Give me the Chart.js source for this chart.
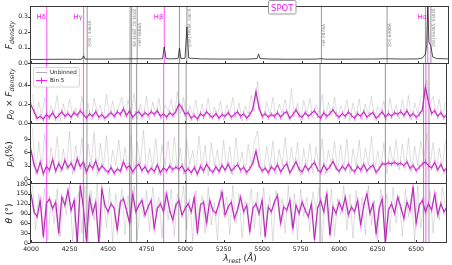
<!DOCTYPE html>
<html>
<head>
<meta charset="utf-8">
<script src="https://cdn.jsdelivr.net/npm/chart.js@4"></script>
<style>
body { margin: 0; background: #fff; }
#wrap { position: relative; width: 452px; height: 265px; }
#wrap canvas { position: absolute; left: 0; top: 0; }
</style>
</head>
<body>
<div id="wrap">
<canvas id="c1" width="452" height="265"></canvas>
<canvas id="c2" width="452" height="265"></canvas>
<canvas id="c3" width="452" height="265"></canvas>
<canvas id="c4" width="452" height="265"></canvas>
</div>
<script>
Chart.defaults.font.family = "'DejaVu Sans', sans-serif";
Chart.defaults.color = '#222';

// ---- data ----
const binStart = 4000, binStep = 20;   // Bin 5 series
const rawStart = 4010, rawStep = 20;   // unbinned (thinned)

const fluxWave = [4000, 4100, 4200, 4300, 4330, 4340, 4350, 4400, 4500, 4600, 4700, 4800, 4850, 4861, 4872, 4900, 4950, 4959, 4968, 4995,
  5007, 5019, 5100, 5200, 5300, 5400, 5460, 5470, 5480, 5550, 5650, 5750, 5850, 5876, 5900, 6000, 6100, 6200, 6300, 6400,
  6500, 6530, 6548, 6556, 6563, 6570, 6583, 6595, 6620, 6700];
const fluxVal = [0.024, 0.025, 0.026, 0.025, 0.027, 0.048, 0.027, 0.027, 0.027, 0.028, 0.029, 0.028, 0.029, 0.105, 0.030, 0.028, 0.030, 0.098, 0.030, 0.032,
  0.235, 0.033, 0.028, 0.027, 0.027, 0.027, 0.030, 0.060, 0.030, 0.027, 0.026, 0.026, 0.027, 0.030, 0.026, 0.026, 0.027, 0.027, 0.029, 0.027,
  0.028, 0.035, 0.060, 0.120, 0.400, 0.140, 0.110, 0.040, 0.030, 0.028];

const polFluxBin = [
  0.19, 0.12, 0.05, 0.07, 0.04, 0.09, 0.06, 0.11, 0.05, 0.08, 0.12, 0.07, 0.10,
  0.06, 0.11, 0.08, 0.13, 0.09, 0.05, 0.10, 0.07, 0.12, 0.06, 0.09, 0.05, 0.08,
  0.11, 0.07, 0.12, 0.09, 0.15, 0.08, 0.13, 0.06, 0.10, 0.12, 0.07, 0.11, 0.08,
  0.12, 0.09, 0.13, 0.07, 0.10, 0.06, 0.11, 0.08, 0.12, 0.20, 0.16, 0.09, 0.11,
  0.05, 0.08, 0.04, 0.10, 0.07, 0.12, 0.08, 0.06, 0.10, 0.05, 0.09, 0.07, 0.11,
  0.06, 0.09, 0.12, 0.07, 0.10, 0.05, 0.09, 0.15, 0.33, 0.16, 0.07, 0.10, 0.06,
  0.09, 0.07, 0.11, 0.06, 0.10, 0.12, 0.05, 0.09, 0.14, 0.08, 0.06, 0.11, 0.07,
  0.10, 0.13, 0.08, 0.05, 0.11, 0.07, 0.10, 0.14, 0.09, 0.06, 0.10, 0.07, 0.12,
  0.08, 0.05, 0.10, 0.07, 0.12, 0.06, 0.09, 0.11, 0.05, 0.08, 0.12, 0.06, 0.10,
  0.07, 0.11, 0.09, 0.12, 0.08, 0.13, 0.07, 0.10, 0.06, 0.09, 0.14, 0.38, 0.22,
  0.10, 0.13, 0.07, 0.11, 0.06, 0.09];
const polFluxRaw = [
  0.30, 0.04, 0.22, 0.08, 0.27, 0.03, 0.18, 0.10, 0.29, 0.02, 0.20, 0.06, 0.25, 0.09, 0.16,
  0.05, 0.28, 0.07, 0.21, 0.03, 0.26, 0.11, 0.19, 0.04, 0.30, 0.08, 0.23, 0.05, 0.17, 0.27,
  0.06, 0.24, 0.10, 0.31, 0.04, 0.20, 0.07, 0.28, 0.03, 0.22, 0.09, 0.26, 0.05, 0.19, 0.12,
  0.25, 0.06, 0.33, 0.10, 0.27, 0.03, 0.18, 0.08, 0.24, 0.02, 0.20, 0.07, 0.26, 0.04, 0.17,
  0.08, 0.23, 0.03, 0.19, 0.10, 0.27, 0.05, 0.21, 0.02, 0.18, 0.09, 0.29, 0.12, 0.44, 0.15,
  0.05, 0.22, 0.08, 0.27, 0.03, 0.20, 0.10, 0.25, 0.04, 0.36, 0.07, 0.21, 0.02, 0.24, 0.09,
  0.26, 0.05, 0.19, 0.11, 0.30, 0.03, 0.22, 0.08, 0.27, 0.04, 0.18, 0.10, 0.24, 0.02, 0.21,
  0.07, 0.25, 0.03, 0.20, 0.09, 0.28, 0.05, 0.17, 0.11, 0.23, 0.02, 0.26, 0.08, 0.19, 0.04,
  0.24, 0.07, 0.29, 0.03, 0.21, 0.10, 0.26, 0.30, 0.45, 0.20, 0.28, 0.08, 0.25, 0.06, 0.22];

const polBin = [
  6.5, 3.2, 1.5, 3.8, 1.2, 2.9, 2.0, 4.4, 1.8, 3.5, 2.2, 4.2, 2.6,
  3.6, 2.1, 4.6, 2.8, 3.9, 1.6, 3.3, 2.4, 4.1, 1.9, 3.0, 2.2, 1.5,
  2.6, 1.3, 2.3, 1.8, 3.9, 2.4, 3.1, 1.6, 2.7, 3.4, 1.9, 2.8, 1.5,
  2.5, 1.7, 3.2, 1.4, 2.6, 1.8, 3.0, 2.1, 2.7, 2.2, 3.0, 1.6, 2.4,
  1.4, 2.6, 1.1, 2.9, 1.8, 3.4, 2.2, 1.5, 2.8, 1.7, 3.1, 2.0, 3.4,
  1.8, 2.6, 3.3, 2.0, 2.7, 1.5, 2.4, 3.6, 6.3, 3.1, 1.8, 2.5, 1.4,
  2.8, 2.0, 3.3, 1.6, 2.7, 3.5, 1.4, 2.6, 3.9, 2.2, 1.6, 3.1, 2.0,
  3.0, 3.8, 2.2, 1.5, 3.2, 2.0, 2.8, 4.0, 2.5, 1.7, 2.9, 2.1, 3.4,
  2.3, 1.6, 2.9, 2.0, 3.3, 1.8, 2.7, 3.1, 1.5, 2.4, 3.5, 3.3, 3.7,
  3.4, 3.8, 3.3, 3.6, 3.0, 3.9, 2.4, 3.1, 1.9, 2.7, 3.4, 3.9, 3.0,
  2.5, 3.8, 2.1, 3.3, 1.8, 2.6];
const polRaw = [
  11.5, 1.2, 8.4, 2.5, 10.2, 0.8, 7.1, 3.0, 9.6, 1.5, 6.8, 2.2, 10.8, 1.0, 7.5,
  2.8, 9.2, 1.1, 7.9, 3.2, 10.5, 0.6, 8.1, 2.4, 9.8, 1.3, 6.5, 3.1, 8.8, 1.7,
  7.2, 2.0, 9.9, 1.1, 8.3, 3.4, 11.0, 1.6, 6.9, 2.5, 9.1, 0.9, 7.7, 2.9, 8.6,
  1.4, 9.5, 2.6, 7.0, 1.0, 8.9, 3.3, 6.4, 1.8, 9.7, 2.2, 7.6, 0.7, 8.2, 2.9,
  6.6, 1.5, 8.7, 2.3, 7.3, 0.9, 9.3, 2.7, 6.1, 1.2, 7.8, 3.1, 8.5, 10.8, 4.0,
  1.6, 7.4, 2.4, 8.6, 1.1, 6.7, 3.0, 9.4, 1.8, 7.1, 2.6, 8.3, 0.8, 6.9, 2.2,
  8.0, 1.4, 7.2, 2.9, 9.1, 1.0, 6.5, 3.2, 8.4, 1.7, 7.7, 2.4, 9.0, 1.2, 6.8,
  2.7, 8.8, 1.5, 7.0, 3.1, 9.6, 1.9, 6.3, 2.5, 8.1, 1.2, 7.5, 3.4, 8.9, 2.0,
  7.9, 2.3, 9.2, 1.6, 7.4, 3.0, 8.6, 4.2, 10.4, 3.1, 8.2, 1.8, 7.0, 2.5, 8.7];

const thetaBin = [
  150, 95, 80, 130, 20, 120, 135, 105, 125, 30, 140, 115, 160,
  100, 130, 0, 175, 110, 5, 140, 90, 125, 0, 165, 115, 95,
  120, 105, 40, 125, 135, 100, 60, 150, 95, 115, 130, 85, 110,
  130, 45, 105, 120, 95, 150, 100, 70, 115, 130, 85, 105, 120,
  95, 140, 30, 115, 125, 60, 130, 100, 90, 120, 155, 85, 110,
  125, 75, 100, 140, 95, 115, 35, 105, 120, 90, 130, 20, 110,
  95, 125, 145, 60, 110, 100, 130, 45, 115, 90, 125, 100, 80,
  120, 10, 105, 130, 95, 150, 25, 110, 90, 125, 100, 140, 85,
  110, 95, 130, 55, 115, 150, 90, 120, 30, 105, 135, 0, 100,
  120, 90, 140, 110, 75, 125, 100, 170, 60, 115, 130, 95, 120,
  100, 150, 85, 120, 95, 110];
const thetaRaw = [
  175, 40, 150, 95, 170, 10, 130, 60, 165, 20, 140, 85, 180, 5, 120,
  155, 30, 175, 0, 160, 70, 180, 15, 135, 45, 170, 0, 150, 90, 165,
  25, 145, 60, 175, 10, 130, 80, 160, 35, 170, 95, 140, 15, 155, 70,
  165, 20, 150, 105, 175, 40, 135, 5, 160, 75, 145, 30, 170, 55, 125,
  10, 160, 85, 140, 25, 175, 60, 150, 15, 130, 95, 165, 45, 155, 20,
  170, 65, 145, 5, 160, 90, 135, 30, 175, 50, 150, 10, 165, 80, 140,
  35, 155, 100, 170, 0, 145, 60, 165, 20, 135, 85, 175, 40, 150, 15,
  160, 70, 140, 25, 175, 55, 130, 10, 165, 95, 150, 35, 170, 60, 145,
  20, 165, 80, 150, 5, 175, 45, 140, 90, 160, 30, 155, 70, 170, 110];

const xTicks = [4000, 4250, 4500, 4750, 5000, 5250, 5500, 5750, 6000, 6250, 6500];
const fluxTicks = [0, 0.1, 0.2, 0.3];
const polFluxTicks = [0, 0.2, 0.4];
const polTicks = [0, 3, 6, 9];
const thetaTicks = [0, 30, 60, 90, 120, 150, 180];

const balmerWave = [4102, 4340, 4861, 6563];
const balmerName = ['Hδ', 'Hγ', 'Hβ', 'Hα'];
const otherWave = [4363, 4640, 4650, 4686, 4959, 5007, 5876, 6300, 6548, 6583];
const noteWave = [4363, 4650, 4686, 5007, 5876, 6300, 6583];
const noteText = ['[OIII] 4363Å', 'NIII 4640Å, CIII 4650Å', 'HeII 4686Å', '[OIII] 4959Å, 5007Å', 'HeI 5876Å', '[OI] 6300Å', '[NII] 6548Å, 6583Å'];

// ---- helpers ----
const W = 452, H = 265, PLOT_L = 31, PLOT_R = 449;
const MAGENTA = '#f01ef0';

function pts(start, step, vals) {
  return vals.map((v, i) => ({x: start + i * step, y: v}));
}
function rawSet(vals) {
  return {data: pts(rawStart, rawStep, vals), borderColor: 'rgba(140,140,140,0.35)', borderWidth: 0.8, pointRadius: 0, clip: 0};
}
function binSets(vals) {
  return [
    {data: pts(binStart, binStep, vals), borderColor: 'rgba(255,40,255,0.35)', borderWidth: 1.8,
     pointStyle: 'line', pointRotation: 90, pointRadius: 2.5, pointBorderColor: 'rgba(240,30,240,0.55)', pointBorderWidth: 1, clip: 0},
    {data: pts(binStart, binStep, vals), borderColor: '#7a2078', borderWidth: 1, pointRadius: 0, clip: 0}
  ];
}
function seg(ctx, x1, y1, x2, y2) {
  ctx.beginPath(); ctx.moveTo(x1, y1); ctx.lineTo(x2, y2); ctx.stroke();
}
// text with italic / subscript parts, centred on (x, y)
function rich(ctx, parts, x, y, rotate) {
  const fnt = p => (p.it ? 'italic ' : '') + (p.sub ? 6.3 : 9) + "px 'DejaVu Sans'";
  ctx.save();
  ctx.translate(x, y);
  if (rotate) ctx.rotate(-Math.PI / 2);
  let total = 0;
  parts.forEach(p => { ctx.font = fnt(p); total += ctx.measureText(p.t).width; });
  let cx = -total / 2;
  ctx.fillStyle = '#222';
  ctx.textAlign = 'left';
  ctx.textBaseline = 'alphabetic';
  parts.forEach(p => {
    ctx.font = fnt(p);
    ctx.fillText(p.t, cx, p.sub ? 5 : 3);
    cx += ctx.measureText(p.t).width;
  });
  ctx.restore();
}

function decor(o) {
  return {
    id: 'decor',
    beforeDatasetsDraw(chart) {
      const {ctx, chartArea: a, scales: {x}} = chart;
      ctx.save();
      ctx.beginPath(); ctx.rect(a.left, a.top, a.right - a.left, a.bottom - a.top); ctx.clip();
      ctx.lineWidth = 0.9;
      ctx.strokeStyle = 'rgba(100,100,100,0.75)';
      otherWave.forEach(w => { const px = x.getPixelForValue(w); seg(ctx, px, a.top, px, a.bottom); });
      ctx.strokeStyle = 'rgba(255,0,255,0.75)';
      balmerWave.forEach(w => { const px = x.getPixelForValue(w); seg(ctx, px, a.top, px, a.bottom); });
      ctx.restore();
    },
    afterDraw(chart) {
      const {ctx, chartArea: a, scales: {x, y}} = chart;
      ctx.save();
      // frame
      ctx.strokeStyle = '#3a3a3a';
      ctx.lineWidth = 1;
      const L = Math.round(a.left) - 0.5, R = Math.round(a.right) - 0.5, B = Math.round(a.bottom) - 0.5, T = Math.round(a.top) + 0.5;
      seg(ctx, L, T - 0.5, L, B + 0.5);
      seg(ctx, R, T - 0.5, R, B + 0.5);
      seg(ctx, L, B, R, B);
      if (o.topEdge) seg(ctx, L, T, R, T);
      // ticks
      xTicks.forEach(v => { const px = Math.round(x.getPixelForValue(v)) + 0.5; seg(ctx, px, B, px, B - 2.5); });
      o.ticks.forEach(v => { const py = Math.round(y.getPixelForValue(v)) + 0.5; seg(ctx, L - 2.5, py, L, py); });
      // y title
      rich(ctx, o.title, 9, (a.top + a.bottom) / 2, true);
      if (o.extra) o.extra(chart, ctx, a, x, y);
      ctx.restore();
    }
  };
}

function panel(id, o) {
  return new Chart(document.getElementById(id), {
    type: 'line',
    data: {datasets: o.datasets},
    options: {
      responsive: false, animation: false, devicePixelRatio: 1,
      layout: {padding: {top: o.top, bottom: o.bottomPad, left: 0, right: W - PLOT_R}},
      plugins: {legend: {display: false}, tooltip: {enabled: false}},
      elements: {line: {tension: 0}},
      scales: {
        x: {
          type: 'linear', min: 4000, max: 6700, display: !!o.showX,
          grid: {display: false, drawTicks: false}, border: {display: false},
          ticks: {font: {size: 6.2}, padding: 3, maxRotation: 0, autoSkip: false, color: '#222', callback: v => String(v)},
          afterBuildTicks: s => { s.ticks = xTicks.map(v => ({value: v})); },
          afterFit: s => {
            if (o.showX) s.height = 22; else s.height = 0;
            s.paddingLeft = 0; s.paddingRight = 0;
          }
        },
        y: {
          min: o.min, max: o.max,
          grid: {display: false, drawTicks: false}, border: {display: false},
          ticks: {font: {size: 6.2}, padding: 3, autoSkip: false, color: '#222', callback: v => o.fmt(v)},
          afterBuildTicks: s => { s.ticks = o.ticks.map(v => ({value: v})); },
          afterFit: s => { s.width = PLOT_L; s.paddingTop = 0; s.paddingBottom = 0; }
        }
      }
    },
    plugins: [decor(o)]
  });
}

// ---- panel 1: flux ----
panel('c1', {
  top: 6, bottomPad: H - 64, min: -0.005, max: 0.37, ticks: fluxTicks, fmt: v => v.toFixed(1), topEdge: true,
  title: [{t: 'F', it: 1}, {t: 'density', it: 1, sub: 1}],
  datasets: [{data: fluxWave.map((w, i) => ({x: w, y: fluxVal[i]})), borderColor: '#222', borderWidth: 0.8, pointRadius: 0, clip: 0}],
  extra(chart, ctx, a, x) {
    // line notes
    ctx.fillStyle = '#888';
    ctx.font = "4.3px 'DejaVu Sans'";
    ctx.textBaseline = 'middle';
    ctx.textAlign = 'left';
    noteWave.forEach((w, i) => {
      ctx.save();
      ctx.translate(x.getPixelForValue(w) + 2.8, 46.5);
      ctx.rotate(-Math.PI / 2);
      ctx.fillText(noteText[i], 0, 0, 38);
      ctx.restore();
    });
    // Balmer labels
    ctx.fillStyle = MAGENTA;
    ctx.font = "6.8px 'DejaVu Sans'";
    ctx.textAlign = 'right';
    ctx.textBaseline = 'alphabetic';
    balmerWave.forEach((w, i) => ctx.fillText(balmerName[i], x.getPixelForValue(w) - 1, 18.5));
    // title box
    ctx.fillStyle = '#fff';
    ctx.strokeStyle = '#999';
    ctx.lineWidth = 1;
    ctx.beginPath();
    ctx.roundRect(268.5, 0.5, 27.5, 13.5, 1.5);
    ctx.fill(); ctx.stroke();
    ctx.fillStyle = MAGENTA;
    ctx.font = "8.5px 'DejaVu Sans'";
    ctx.textAlign = 'center';
    ctx.fillText('SPOT', 282.3, 11);
  }
});

// ---- panel 2: p0 x F ----
panel('c2', {
  top: 64, bottomPad: H - 124, min: -0.01, max: 0.62, ticks: polFluxTicks, fmt: v => v.toFixed(1),
  title: [{t: 'p', it: 1}, {t: '0', it: 1, sub: 1}, {t: ' × '}, {t: 'F', it: 1}, {t: 'density', it: 1, sub: 1}],
  datasets: [rawSet(polFluxRaw), ...binSets(polFluxBin)],
  extra(chart, ctx) {
    ctx.fillStyle = 'rgba(255,255,255,0.85)';
    ctx.strokeStyle = '#ccc';
    ctx.lineWidth = 0.8;
    ctx.beginPath();
    ctx.roundRect(33.5, 67.5, 46, 19.5, 2);
    ctx.fill(); ctx.stroke();
    ctx.strokeStyle = 'rgba(140,140,140,0.7)';
    ctx.lineWidth = 1;
    seg(ctx, 36, 72.5, 47, 72.5);
    ctx.strokeStyle = MAGENTA;
    seg(ctx, 36, 80.5, 47, 80.5);
    seg(ctx, 41.5, 77.5, 41.5, 83.5);
    ctx.fillStyle = '#222';
    ctx.font = "5.6px 'DejaVu Sans'";
    ctx.textAlign = 'left';
    ctx.textBaseline = 'middle';
    ctx.fillText('Unbinned', 50, 73);
    ctx.fillText('Bin 5', 50, 81);
  }
});

// ---- panel 3: p0 (%) ----
panel('c3', {
  top: 124, bottomPad: H - 184, min: -1.1, max: 12.4, ticks: polTicks, fmt: v => String(v),
  title: [{t: 'p', it: 1}, {t: '0', it: 1, sub: 1}, {t: '(%)'}],
  datasets: [rawSet(polRaw), ...binSets(polBin)]
});

// ---- panel 4: theta ----
panel('c4', {
  top: 184, bottomPad: 0, showX: true, min: 0, max: 180, ticks: thetaTicks, fmt: v => String(v),
  title: [{t: 'θ', it: 1}, {t: ' (°)'}],
  datasets: [rawSet(thetaRaw), ...binSets(thetaBin)],
  extra(chart, ctx) {
    rich(ctx, [{t: 'λ', it: 1}, {t: 'rest', it: 1, sub: 1}, {t: ' ('}, {t: 'Å', it: 1}, {t: ')'}], 240, 257.5, false);
  }
});
</script>
</body>
</html>
